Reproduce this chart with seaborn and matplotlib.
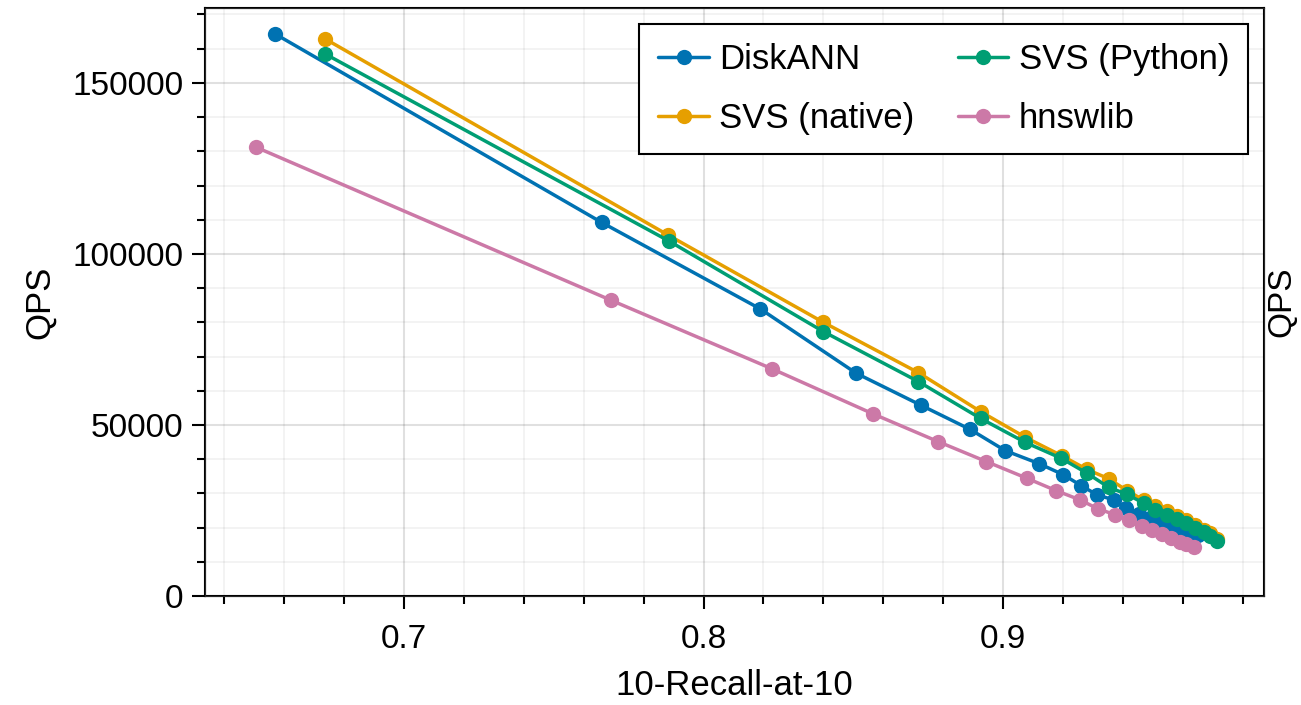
import numpy as np
import pandas as pd
import matplotlib
matplotlib.use('Agg')
import matplotlib.pyplot as plt
from matplotlib.lines import Line2D
from matplotlib.ticker import MultipleLocator, FormatStrFormatter
import seaborn as sns

# ---- data ----
diskann_recall = [0.657, 0.766, 0.819, 0.851, 0.8725, 0.889, 0.9007, 0.912, 0.920, 0.926,
                  0.9315, 0.937, 0.941, 0.9455, 0.949, 0.9525, 0.956, 0.959, 0.962, 0.965]
diskann_qps = [164300, 109200, 83900, 65100, 55800, 48700, 42500, 38700, 35500, 32300,
               29500, 28100, 25600, 24100, 22900, 21800, 20700, 19700, 18700, 17800]

svs_native_recall = [0.6736, 0.7882, 0.840, 0.8717, 0.8925, 0.9074, 0.9196, 0.928, 0.9352, 0.9414,
                     0.947, 0.9508, 0.9547, 0.958, 0.961, 0.9641, 0.9669, 0.969, 0.9714]
svs_native_qps = [162900, 105500, 80000, 65300, 53900, 46400, 41000, 37000, 34300, 30800,
                  28000, 26200, 24800, 23300, 22100, 20900, 19400, 18400, 16600]

svs_python_recall = [0.6736, 0.7886, 0.840, 0.8717, 0.8925, 0.9074, 0.9193, 0.928, 0.9352, 0.9414,
                     0.947, 0.9508, 0.9547, 0.958, 0.961, 0.9641, 0.9669, 0.969, 0.9714]
svs_python_qps = [158500, 103700, 77300, 62700, 51900, 44900, 40300, 35900, 31800, 29700,
                  27100, 25200, 23800, 22400, 21200, 20000, 18600, 17600, 16100]

hnswlib_recall = [0.6506, 0.769, 0.8229, 0.8567, 0.8784, 0.8944, 0.908, 0.9177, 0.9257, 0.9316,
                  0.9373, 0.942, 0.9463, 0.9496, 0.953, 0.956, 0.959, 0.9611, 0.9636]
hnswlib_qps = [131200, 86500, 66400, 53200, 45100, 39300, 34400, 30800, 28100, 25500,
               23800, 22200, 20600, 19400, 18200, 17000, 15800, 15100, 14200]

methods = ['DiskANN', 'SVS (native)', 'SVS (Python)', 'hnswlib']
colors = ['#0072B2', '#E69F00', '#009E73', '#CC79A7']

# build long table for seaborn
frames = []
for name, rec, qps in zip(methods,
                          [diskann_recall, svs_native_recall, svs_python_recall, hnswlib_recall],
                          [diskann_qps, svs_native_qps, svs_python_qps, hnswlib_qps]):
    frames.append(pd.DataFrame({'recall': rec, 'qps': qps, 'method': name}))
df = pd.concat(frames, ignore_index=True)

sns.set_style('ticks')
plt.rcParams['font.family'] = ['Liberation Sans', 'DejaVu Sans']
plt.rcParams['font.size'] = 24
plt.rcParams['text.color'] = 'black'
plt.rcParams['axes.labelcolor'] = 'black'
plt.rcParams['xtick.color'] = 'black'
plt.rcParams['ytick.color'] = 'black'

fig = plt.figure(figsize=(13.01, 7.05), dpi=100)
ax = fig.add_axes([0.1576, 0.1546, 0.8140, 0.8341])

palette = dict(zip(methods, colors))
sns.lineplot(data=df, x='recall', y='qps', hue='method', hue_order=methods,
             palette=palette, marker='o', markersize=11, markeredgewidth=0,
             linewidth=2.5, sort=False, estimator=None, legend=False, ax=ax)

ax.set_xlim(0.6336, 0.9871)
ax.set_ylim(0, 171900)
ax.xaxis.set_major_locator(MultipleLocator(0.1))
ax.xaxis.set_minor_locator(MultipleLocator(0.02))
ax.yaxis.set_major_locator(MultipleLocator(50000))
ax.yaxis.set_minor_locator(MultipleLocator(10000))
ax.xaxis.set_major_formatter(FormatStrFormatter('%.1f'))
ax.yaxis.set_major_formatter(FormatStrFormatter('%d'))

ax.grid(which='major', color='black', alpha=0.12, linewidth=1.5)
ax.grid(which='minor', color='black', alpha=0.05, linewidth=1.3)
ax.set_axisbelow(True)

for s in ax.spines.values():
    s.set_linewidth(1.5)
    s.set_color('black')
ax.tick_params(which='major', length=9.5, width=1.5, labelsize=24, direction='out')
ax.tick_params(axis='x', which='major', pad=11)
ax.tick_params(axis='y', which='major', pad=6)
ax.tick_params(which='minor', length=6, width=1.5, direction='out')

ax.set_xlabel('10-Recall-at-10', fontsize=25, labelpad=10)
ax.set_ylabel('QPS', fontsize=25, labelpad=12)

# second QPS label on the right side
ax2 = ax.twinx()
ax2.set_ylim(ax.get_ylim())
ax2.set_yticks([])
ax2.set_ylabel('QPS', fontsize=24, labelpad=2)

handles = [Line2D([0], [0], color=c, marker='o', markersize=11, markeredgewidth=0,
                  linewidth=2.5) for c in colors]
leg = ax.legend(handles, methods, loc='upper right', ncol=2, fontsize=25,
                frameon=True, fancybox=False, framealpha=1, edgecolor='black',
                handlelength=1.45, handletextpad=0.3, columnspacing=1.25,
                borderpad=0.55, labelspacing=0.75, borderaxespad=0,
                bbox_to_anchor=(0.985, 0.973))
leg.get_frame().set_linewidth(1.5)

fig.savefig('out.png', dpi=100)
